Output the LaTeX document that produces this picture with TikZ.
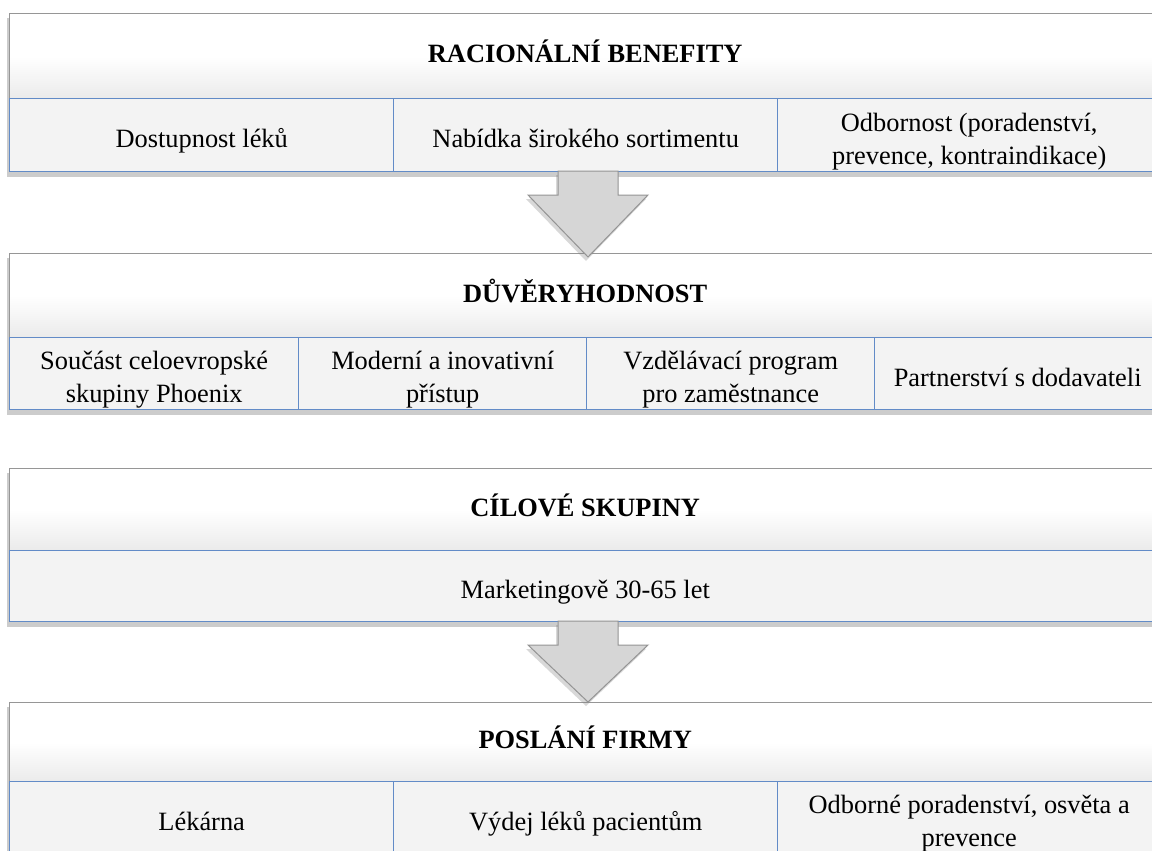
\documentclass[tikz,border=0pt]{standalone}
\usepackage{fontspec}
\setmainfont{Liberation Serif}
\usetikzlibrary{positioning,fit,backgrounds,shadows}
\definecolor{cellblue}{RGB}{98,139,199}
\definecolor{cellfill}{RGB}{243,243,243}
\definecolor{headline}{RGB}{150,150,150}
% text of a cell, set a little below its middle
\newcommand{\celltxt}[1]{\raisebox{-6pt}[0pt][0pt]{\begin{tabular}{@{}c@{}}#1\end{tabular}}}
\begin{document}
\begin{tikzpicture}[
        x=0.5pt, y=-0.5pt,
        every node/.style={font=\fontsize{13.2}{16.5}\selectfont, inner sep=0pt},
        header/.style={draw=headline, line width=0.7pt, top color=white, bottom color=black!8, middle color=white,
            anchor=north west, minimum width=575.5pt, font=\fontsize{13.2}{16.5}\selectfont\bfseries,
            execute at begin node=\strut, execute at end node=\strut},
        cell/.style={draw=cellblue, line width=0.7pt, fill=cellfill, anchor=north west},
        panel/.style={draw=none, inner sep=0pt, fill=white, drop shadow={shadow xshift=-1.2pt, shadow yshift=-2.5pt, opacity=0.4}},
        blockarrow/.style={fill=black!16, draw=black!42, line width=0.5pt, drop shadow={shadow xshift=-1pt, shadow yshift=-2pt, opacity=0.3}}
    ]
    \useasboundingbox (0,0) rectangle (1152,851);

    % racionalni benefity
    \node[header, minimum height=42.5pt] (h1) at (9,13) {RACIONÁLNÍ BENEFITY};
    \node[cell, minimum width=192pt, minimum height=36.5pt] (c11) at (9,98) {\celltxt{Dostupnost léků}};
    \node[cell, minimum width=192pt, minimum height=36.5pt] (c12) at (393,98) {\celltxt{Nabídka širokého sortimentu}};
    \node[cell, minimum width=191.5pt, minimum height=36.5pt] (c13) at (777,98) {\celltxt{Odbornost (poradenství,\\prevence, kontraindikace)}};

    % duveryhodnost
    \node[header, minimum height=42pt] (h2) at (9,253) {DŮVĚRYHODNOST};
    \node[cell, minimum width=144.5pt, minimum height=36pt] (c21) at (9,337) {\celltxt{Součást celoevropské\\skupiny Phoenix}};
    \node[cell, minimum width=144pt, minimum height=36pt] (c22) at (298,337) {\celltxt{Moderní a inovativní\\přístup}};
    \node[cell, minimum width=144pt, minimum height=36pt] (c23) at (586,337) {\celltxt{Vzdělávací program\\pro zaměstnance}};
    \node[cell, minimum width=143pt, minimum height=36pt] (c24) at (874,337) {\celltxt{Partnerství s dodavateli}};

    % cilove skupiny
    \node[header, minimum height=41pt] (h3) at (9,468) {CÍLOVÉ SKUPINY};
    \node[cell, minimum width=575.5pt, minimum height=35.5pt] (c31) at (9,550) {\celltxt{Marketingově 30-65 let}};

    % poslani firmy
    \node[header, minimum height=39.5pt] (h4) at (9,702) {POSLÁNÍ FIRMY};
    \node[cell, minimum width=192pt, minimum height=36pt] (c41) at (9,781) {\celltxt{Lékárna}};
    \node[cell, minimum width=192pt, minimum height=36pt] (c42) at (393,781) {\celltxt{Výdej léků pacientům}};
    \node[cell, minimum width=191.5pt, minimum height=36pt] (c43) at (777,781) {\celltxt{Odborné poradenství, osvěta a\\prevence}};

    \begin{scope}[on background layer]
        \fill[white] (0,0) rectangle (1152,851);
        \node[panel, fit=(h1)(c13)] (p1) {};
        \node[panel, fit=(h2)(c24)] (p2) {};
        \node[panel, fit=(h3)(c31)] (p3) {};
        \node[panel, fit=(h4)(c43)] (p4) {};
    \end{scope}

    % sipky
    \coordinate (a1) at (588,171);
    \coordinate (a2) at (588,621);
    \draw[blockarrow] (a1) ++(-30,0) -- ++(0,24) -- ++(-30,0) -- ++(60,62) -- ++(60,-62) -- ++(-30,0) -- ++(0,-24) -- cycle;
    \draw[blockarrow] (a2) ++(-30,0) -- ++(0,24) -- ++(-30,0) -- ++(60,57) -- ++(60,-57) -- ++(-30,0) -- ++(0,-24) -- cycle;
\end{tikzpicture}
\end{document}
